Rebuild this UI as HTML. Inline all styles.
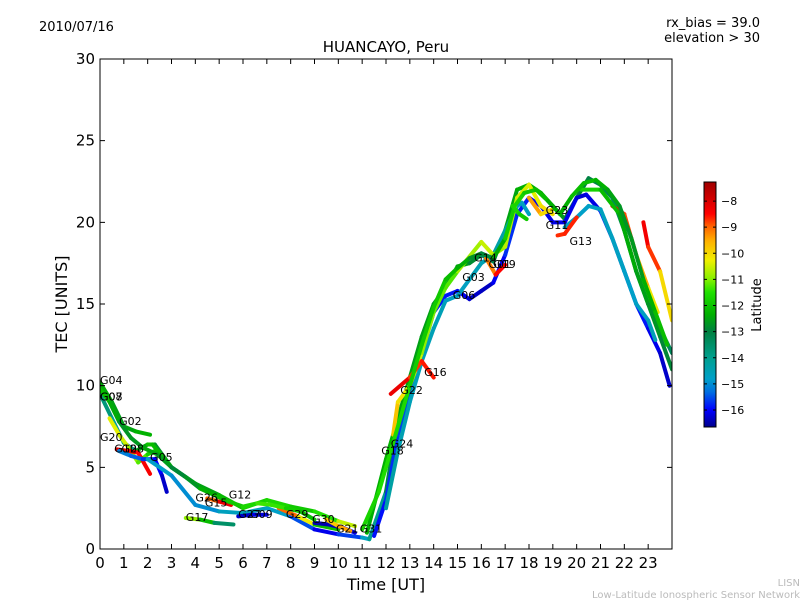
<!DOCTYPE html>
<html><head><meta charset="utf-8"><style>
body{margin:0;background:#fff;}
svg{display:block;font-family:"DejaVu Sans","Liberation Sans",sans-serif;}
</style></head><body>
<svg id="chart" width="800" height="600" xmlns="http://www.w3.org/2000/svg">
<defs>
<linearGradient id="jet" x1="0" y1="1" x2="0" y2="0">
<stop offset="0" stop-color="#00008c"/><stop offset="0.07" stop-color="#0000ff"/>
<stop offset="0.144" stop-color="#0070e0"/><stop offset="0.197" stop-color="#00a0c8"/>
<stop offset="0.28" stop-color="#00a090"/><stop offset="0.39" stop-color="#008040"/>
<stop offset="0.46" stop-color="#00b000"/><stop offset="0.55" stop-color="#20e000"/>
<stop offset="0.60" stop-color="#80f000"/><stop offset="0.68" stop-color="#f0f000"/>
<stop offset="0.76" stop-color="#ffb000"/><stop offset="0.82" stop-color="#ff6000"/>
<stop offset="0.87" stop-color="#ff0000"/><stop offset="1" stop-color="#a00000"/>
</linearGradient>
<clipPath id="clip"><rect x="100" y="59" width="572" height="490"/></clipPath>
</defs>
<text x="39" y="31" font-size="13">2010/07/16</text>
<text x="760" y="27" font-size="13" text-anchor="end">rx_bias = 39.0</text>
<text x="760" y="42" font-size="13" text-anchor="end">elevation &gt; 30</text>
<text x="386" y="52" font-size="15" text-anchor="middle">HUANCAYO, Peru</text>
<text x="386" y="590" font-size="16" text-anchor="middle">Time [UT]</text>
<text transform="translate(67,304) rotate(-90)" font-size="16" text-anchor="middle">TEC [UNITS]</text>
<g id="tracks" clip-path="url(#clip)"></g>
<g id="labels"></g>
<rect x="100" y="59" width="572" height="490" fill="none" stroke="#000" stroke-width="1"/>
<g id="axes"></g>
<rect x="704" y="182" width="12" height="245" fill="url(#jet)" stroke="#000" stroke-width="1"/>
<g id="cbticks"></g>
<text transform="translate(761,305) rotate(-90)" font-size="13" text-anchor="middle">Latitude</text>
<text x="800" y="586" font-size="10" fill="#bbb" text-anchor="end">LISN</text>
<text x="800" y="598" font-size="10" fill="#bbb" text-anchor="end">Low-Latitude Ionospheric Sensor Network</text>
</svg>
<script>
const xTicks=[0,1,2,3,4,5,6,7,8,9,10,11,12,13,14,15,16,17,18,19,20,21,22,23];
const yTicks=[0,5,10,15,20,25,30];
const cbTicks=[-8,-9,-10,-11,-12,-13,-14,-15,-16];
const latMin=-16.65, latMax=-7.27;
const trackT=[
[0,0.5,1,1.5,2.1],
[0,0.5,1,1.5,2,2.3,3,4,5,5.5],
[0.4,0.8,1.2,1.6,2,2.3],
[0.7,1.2,1.6,2.1],
[0.8,1.3,1.8,2.3,2.6,2.8],
[2.2,3,4,5,6,7,8,9,10,10.7],
[2,3,4,5,6,7,8,9,10,11,11.3,12,12.5],
[3.6,4.2,4.8,5.6],
[4.5,5,5.5],
[5.8,6.4,7],
[7.5,8.3,9,10],
[9,9.6,10.2,10.7],
[9.5,10,10.5],
[11.2,12,12.5,13,13.5,14,14.5,15,15.5,16,16.5,17,17.5,18,18.5,19,19.5,20,20.5,21,21.5,22,22.5,23,23.5,24],
[11.5,12,12.5,13,13.5,14,14.5,15,15.5,16,16.5,17,17.5,18,18.5,19,19.5,20,20.4,21,21.5,22,22.5,23,23.5,23.9],
[12,12.5,13,13.5,14,14.5,15,15.5,16,16.5,17,17.5,17.7,18],
[19.5,20,20.5,21,21.5,22,22.5,23,23.3],
[12.3,12.5,13,13.5,14,14.5,15,16,16.5,17,17.5,18,18.5,19],
[12.2,13,13.5,14],
[21.5,22,22.5,23,23.4],
[22.8,23,23.5,24],
[19.2,19.5,20],
[18,18.5,19],
[20.2,21,21.8,22.5,23,23.5,24],
[16.2,16.6,17],
[11,11.7,12.3,13,13.5,14,14.5,15,15.5,16,16.5,17,17.4,17.8,18.3,18.8,19.3,19.8,20.3,20.8,21.3,21.8,22.3,22.8,23.3,23.8],
[0,0.4,0.8,1.3,1.8,2.4,3,3.6,4.2,4.8,5.4,6,6.6,7.2,7.8,8.4,9],
[17.3,17.6,17.9]
];
const trackTec=[
[10.2,9,7.5,7.2,7.0],
[9.5,8,6.5,6,6.4,6.4,5,4,3.2,2.8],
[8,7,6.2,5.3,5.8,6],
[6.1,6,5.9,4.6],
[6,5.7,5.5,5.5,4.5,3.5],
[6.4,5,4,3.3,2.5,3,2.6,2.3,1.7,1.4],
[5.5,4.5,2.7,2.3,2.2,2.5,2,1.2,0.9,0.7,0.6,3.5,8],
[1.9,1.8,1.6,1.5],
[3.1,2.9,2.7],
[2,2.1,2.1],
[2.5,2,1.5,1.2],
[1.6,1.5,1.3,1.0],
[1.8,1.4,1.1],
[1,5.5,8,10.5,13,15,16,17.3,17.5,18,17.6,19.5,22,22.3,21.8,21,20.2,21.5,22.7,22.3,21.5,19.5,17,15,13.5,12],
[0.8,3,7,9.5,12,14.5,15.5,15.8,15.3,15.8,16.3,18,20.5,21.5,21,20,20,21.5,21.7,20.7,19,17,15,13.5,12,10],
[2.5,6,9,11.5,13.5,15.2,15.5,16.5,17.5,18,19.5,21,21.2,20.5],
[19.7,20.3,21,20.8,19,17,15,14,12.8],
[7,9,10,12,14.5,16,17,18.8,18,18.5,21.5,22.3,21,20.5],
[9.5,10.5,11.5,10.5],
[21,20.5,18,16,14.5],
[20,18.5,17,14],
[19.2,19.3,20.3],
[21.5,20.5,20.8],
[22,22,20.5,17,15,13,11],
[17.8,16.8,17.4],
[1.2,3.5,6.5,10,12.5,14.8,16.5,17.2,17.8,18.1,17.8,19,21,21.8,22,21.3,20.5,21.6,22.4,22.6,22,21,19,16.5,14.5,12.5],
[9.8,9,7.8,6.8,6.2,5.8,5,4.4,3.7,3.3,2.9,2.6,2.8,2.7,2.5,2.3,1.8],
[21,20.5,20.2]
];
const trackLat=[
[-12.3,-12.5,-12.6,-12.4,-12.2],
[-13.5,-14,-14.5,-13,-12,-12,-13.5,-14,-14.5,-15],
[-10.5,-10.2,-10.8,-11,-11.5,-12],
[-8,-8.2,-8.5,-8.3],
[-15,-15.3,-15.5,-15.8,-16.2,-16.4],
[-12,-12.3,-12.6,-12.4,-12,-11.5,-11.8,-12,-11,-10.2],
[-14.8,-14.8,-15.2,-14.8,-14.5,-14.6,-15,-16,-16.2,-15,-14.5,-13.5,-12.8],
[-10,-11.8,-12.5,-14.5],
[-9.5,-8.5,-8],
[-16.3,-16.3,-16],
[-9.5,-8.5,-12,-12.2],
[-16.4,-16.5,-16.3,-16],
[-10,-9.6,-9.2],
[-12.5,-12.2,-12.4,-12.6,-12.5,-12.6,-12.8,-12.6,-12.4,-13.3,-13.5,-12.7,-12.3,-12.4,-12.2,-12.5,-12.8,-12.9,-13,-13.1,-13.2,-13.4,-13.6,-13.8,-13.5,-13.2],
[-16,-15.8,-15.6,-15.6,-15.8,-15.9,-15.8,-15.9,-16.2,-16.4,-16.3,-15.8,-15.6,-16,-16.1,-16.2,-16,-16.2,-16.3,-16,-15.8,-15.6,-15.7,-16,-16.2,-16.4],
[-14.2,-14.4,-14.6,-14.6,-14.5,-14.6,-14.8,-14.6,-14.5,-14.5,-14.2,-14.4,-14.6,-14.8],
[-14.6,-14.8,-14.8,-14.7,-14.6,-14.8,-14.8,-14.6,-14.5],
[-9.5,-10,-10.2,-10.8,-11,-11.3,-11.2,-10.4,-10.7,-11,-10.3,-10.6,-10.1,-10],
[-8,-8.5,-9,-8.2],
[-8.3,-8.5,-9.2,-9.8,-10.5],
[-8.2,-8.5,-9,-11],
[-8.6,-8.8,-8.5],
[-9,-9.8,-10.2],
[-11.5,-12,-12.3,-12.5,-12.6,-12.8,-13],
[-9.5,-8.8,-8.2],
[-11.8,-11.6,-11.5,-11.7,-12,-11.8,-12,-12.2,-12.5,-13,-12.8,-12,-11.6,-11.8,-12,-12.2,-12.5,-12.2,-12,-12.2,-12.4,-12.6,-12.8,-12.5,-12.2,-12],
[-12,-12.2,-12.6,-12.8,-12.5,-12.4,-12.8,-13,-12.4,-12.2,-12,-11.8,-11.5,-11.2,-11.6,-12,-12.2],
[-11.5,-11.8,-12]
];
const satNames=["G04","G07","G08","G02","G20","G10","G28","G05","G26","G15","G12","G17","G27","G09","G29","G30","G21","G31","G18","G24","G22","G16","G06","G03","G14","G01","G19","G23","G11","G13"];
const satT=[0,0,0,0.8,0,0.6,0.9,2.1,4,4.4,5.4,3.6,5.8,6.3,7.8,8.9,9.9,10.9,11.8,12.2,12.6,13.6,14.8,15.2,15.7,16.3,16.5,18.7,18.7,19.7];
const satTec=[10.1,9.1,9.1,7.6,6.6,5.9,5.9,5.4,2.9,2.6,3.1,1.7,1.9,1.9,1.9,1.6,1.0,1.0,5.8,6.2,9.5,10.6,15.3,16.4,17.6,17.2,17.2,20.5,19.6,18.6];
const NS="http://www.w3.org/2000/svg";
const X0=100,X1=672,Y0=549,Y1=59;
const cmapPos=[0,0.07,0.144,0.197,0.28,0.39,0.46,0.55,0.60,0.68,0.76,0.82,0.87,1];
const cmapCol=[[0,0,140],[0,0,255],[0,112,224],[0,160,200],[0,160,144],[0,128,64],[0,176,0],[32,224,0],[128,240,0],[240,240,0],[255,176,0],[255,96,0],[255,0,0],[160,0,0]];
function xs(t){return X0+(t/24)*(X1-X0);}
function ys(v){return Y0-(v/30)*(Y0-Y1);}
function cy(l){return 427-(l-latMin)/(latMax-latMin)*245;}
function jet(l){let v=(l-latMin)/(latMax-latMin);v=Math.max(0,Math.min(1,v));
 let i=0;while(i<cmapPos.length-2&&v>cmapPos[i+1])i++;
 const f=(v-cmapPos[i])/(cmapPos[i+1]-cmapPos[i]);
 const c=[0,1,2].map(k=>Math.round(cmapCol[i][k]+(cmapCol[i+1][k]-cmapCol[i][k])*f));
 return `rgb(${c[0]},${c[1]},${c[2]})`;}
const tg=document.getElementById('tracks');
for(let k=0;k<trackT.length;k++){
 const T=trackT[k],V=trackTec[k],L=trackLat[k];
 for(let i=0;i<T.length-1;i++){
  const ln=document.createElementNS(NS,'line');
  
  
  ln.setAttribute('x1',xs(T[i]));ln.setAttribute('y1',ys(V[i]));
  ln.setAttribute('x2',xs(T[i+1]));ln.setAttribute('y2',ys(V[i+1]));
  ln.setAttribute('stroke',jet((L[i]+L[i+1])/2));
  ln.setAttribute('stroke-width','4');ln.setAttribute('stroke-linecap','round');
  tg.appendChild(ln);
 }
}
const lg=document.getElementById('labels');
for(let i=0;i<satNames.length;i++){
 const t=document.createElementNS(NS,'text');
 
 
 t.setAttribute('x',xs(satT[i]));t.setAttribute('y',ys(satTec[i]));
 t.setAttribute('font-size','11');t.textContent=satNames[i];lg.appendChild(t);
}
const ax=document.getElementById('axes');
xTicks.forEach(v=>{
 const x=xs(v);
 const l=document.createElementNS(NS,'path');
 
 
 l.setAttribute('d',`M${x},${Y0}v-5M${x},${Y1}v5`);l.setAttribute('stroke','#000');ax.appendChild(l);
 const t=document.createElementNS(NS,'text');
 
 
 t.setAttribute('x',x);t.setAttribute('y',568);t.setAttribute('font-size','15');t.setAttribute('text-anchor','middle');
 t.textContent=v;ax.appendChild(t);
});
yTicks.forEach(v=>{
 const y=ys(v);
 const l=document.createElementNS(NS,'path');
 
 
 l.setAttribute('d',`M${X0},${y}h5M${X1},${y}h-5`);l.setAttribute('stroke','#000');ax.appendChild(l);
 const t=document.createElementNS(NS,'text');
 
 
 t.setAttribute('x',95);t.setAttribute('y',y+5);t.setAttribute('font-size','15');t.setAttribute('text-anchor','end');
 t.textContent=v;ax.appendChild(t);
});
const cg=document.getElementById('cbticks');
cbTicks.forEach(v=>{
 const y=cy(v);
 const l=document.createElementNS(NS,'path');
 
 
 l.setAttribute('d',`M704,${y}h3M716,${y}h-3`);l.setAttribute('stroke','#000');cg.appendChild(l);
 const t=document.createElementNS(NS,'text');
 
 
 t.setAttribute('x',721);t.setAttribute('y',y+4);t.setAttribute('font-size','11');
 t.textContent='\u2212'+Math.abs(v);cg.appendChild(t);
});
</script>
</body></html>
